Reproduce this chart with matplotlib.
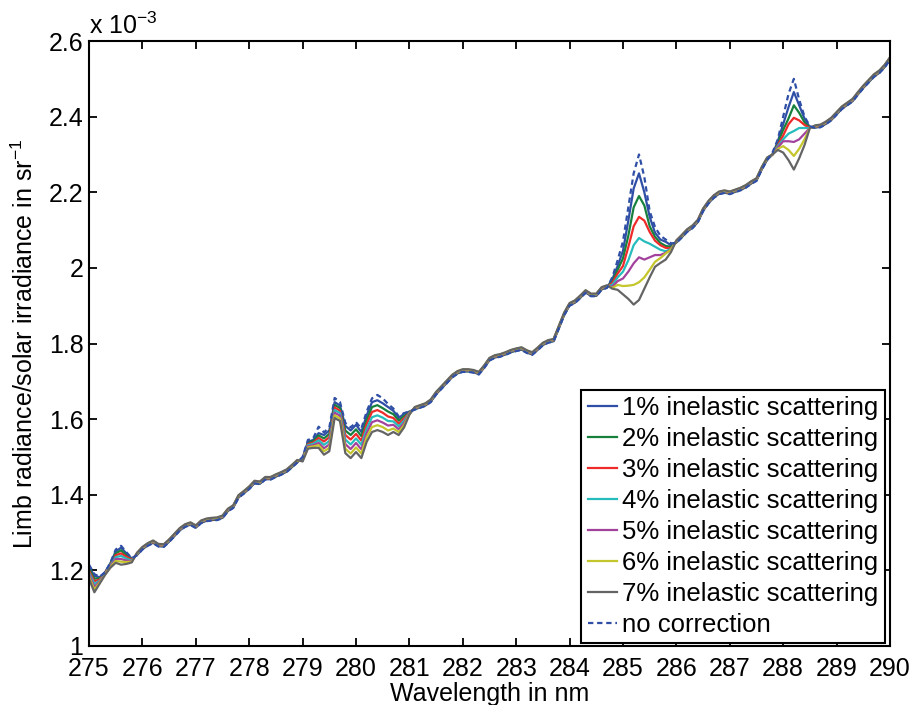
import numpy as np
import matplotlib
matplotlib.use("Agg")
import matplotlib.pyplot as plt
from matplotlib.ticker import FuncFormatter, MultipleLocator

plt.rcParams['font.family'] = ['Liberation Sans', 'DejaVu Sans']
plt.rcParams['mathtext.fontset'] = 'custom'
plt.rcParams['mathtext.rm'] = 'Liberation Sans'
plt.rcParams['mathtext.it'] = 'Liberation Sans:italic'

# wavelength grid in nm, 0.1 nm steps
wavelength = np.round(np.linspace(275.0, 290.0, 151), 1)

# uncorrected limb radiance / solar irradiance (x 1e-3 sr^-1)
no_correction = [
    1.215, 1.19, 1.183, 1.195, 1.22, 1.255, 1.265, 1.248, 1.232, 1.24,      # 275.0-275.9
    1.255, 1.265, 1.272, 1.263, 1.262, 1.275, 1.29, 1.305, 1.315, 1.32,     # 276.0-276.9
    1.312, 1.325, 1.33, 1.332, 1.333, 1.338, 1.356, 1.365, 1.392, 1.403,    # 277.0-277.9
    1.415, 1.43, 1.428, 1.44, 1.44, 1.447, 1.453, 1.46, 1.472, 1.485,       # 278.0-278.9
    1.50, 1.545, 1.55, 1.58, 1.565, 1.578, 1.656, 1.645, 1.59, 1.578,       # 279.0-279.9
    1.592, 1.575, 1.62, 1.655, 1.664, 1.655, 1.64, 1.628, 1.607, 1.616,     # 280.0-280.9
    1.62, 1.625, 1.63, 1.635, 1.645, 1.665, 1.68, 1.695, 1.71, 1.72,        # 281.0-281.9
    1.725, 1.725, 1.723, 1.718, 1.735, 1.755, 1.762, 1.765, 1.77, 1.776,    # 282.0-282.9
    1.78, 1.783, 1.775, 1.77, 1.782, 1.795, 1.802, 1.805, 1.84, 1.875,      # 283.0-283.9
    1.90, 1.907, 1.92, 1.934, 1.925, 1.925, 1.942, 1.947, 1.975, 2.02,      # 284.0-284.9
    2.07, 2.16, 2.25, 2.30, 2.24, 2.15, 2.108, 2.085, 2.075, 2.065,         # 285.0-285.9
    2.066, 2.08, 2.095, 2.105, 2.12, 2.15, 2.17, 2.185, 2.195, 2.198,       # 286.0-286.9
    2.195, 2.20, 2.205, 2.212, 2.222, 2.23, 2.26, 2.285, 2.305, 2.34,       # 287.0-287.9
    2.40, 2.46, 2.50, 2.445, 2.40, 2.375, 2.37, 2.372, 2.38, 2.39,          # 288.0-288.9
    2.405, 2.42, 2.43, 2.44, 2.458, 2.475, 2.49, 2.505, 2.515, 2.53,        # 289.0-289.9
    2.55,                                                                   # 290.0
]

labels = ['1% inelastic scattering', '2% inelastic scattering', '3% inelastic scattering',
          '4% inelastic scattering', '5% inelastic scattering', '6% inelastic scattering',
          '7% inelastic scattering']
colors = ['#2f4fa6', '#17803d', '#ee2a2a', '#27bcbc', '#a3429d', '#c5c52c', '#646464']

# small shift of the corrected spectra away from the Fraunhofer lines (1% .. 7%)
band_offset = [0.001, 0.002, 0.003, 0.004, 0.005, 0.006, 0.007]

# corrected spectra around the lines, one row per percentage (1% .. 7%)
win_275_wl = [275.0, 275.1, 275.2, 275.3, 275.4, 275.5, 275.6, 275.7, 275.8]
win_275 = [
    [1.210, 1.185, 1.182, 1.195, 1.219, 1.250, 1.260, 1.245, 1.231],
    [1.205, 1.178, 1.179, 1.194, 1.217, 1.245, 1.253, 1.240, 1.229],
    [1.199, 1.171, 1.176, 1.193, 1.215, 1.240, 1.245, 1.236, 1.228],
    [1.194, 1.164, 1.173, 1.191, 1.213, 1.235, 1.238, 1.231, 1.226],
    [1.189, 1.156, 1.171, 1.190, 1.211, 1.230, 1.230, 1.226, 1.224],
    [1.183, 1.149, 1.168, 1.189, 1.209, 1.225, 1.223, 1.222, 1.223],
    [1.178, 1.142, 1.165, 1.188, 1.207, 1.220, 1.215, 1.217, 1.221],
]

win_280_wl = [279.0, 279.1, 279.2, 279.3, 279.4, 279.5, 279.6, 279.7, 279.8, 279.9, 280.0,
              280.1, 280.2, 280.3, 280.4, 280.5, 280.6, 280.7, 280.8, 280.9, 281.0]
win_280 = [
    [1.498, 1.540, 1.545, 1.563, 1.558, 1.570, 1.645, 1.636, 1.582, 1.570, 1.585,
     1.566, 1.610, 1.645, 1.650, 1.642, 1.632, 1.622, 1.603, 1.614, 1.620],
    [1.496, 1.537, 1.542, 1.557, 1.549, 1.561, 1.638, 1.629, 1.570, 1.558, 1.573,
     1.555, 1.598, 1.632, 1.637, 1.629, 1.620, 1.613, 1.596, 1.608, 1.619],
    [1.495, 1.534, 1.538, 1.550, 1.541, 1.552, 1.631, 1.622, 1.558, 1.546, 1.561,
     1.543, 1.587, 1.619, 1.624, 1.617, 1.607, 1.603, 1.588, 1.602, 1.617],
    [1.493, 1.531, 1.535, 1.544, 1.532, 1.542, 1.624, 1.616, 1.546, 1.533, 1.549,
     1.532, 1.575, 1.605, 1.610, 1.604, 1.595, 1.594, 1.581, 1.596, 1.616],
    [1.491, 1.528, 1.531, 1.537, 1.523, 1.533, 1.617, 1.609, 1.534, 1.521, 1.537,
     1.520, 1.563, 1.592, 1.597, 1.591, 1.583, 1.585, 1.573, 1.590, 1.615],
    [1.490, 1.525, 1.528, 1.531, 1.515, 1.524, 1.610, 1.602, 1.522, 1.509, 1.525,
     1.509, 1.552, 1.579, 1.584, 1.579, 1.570, 1.575, 1.566, 1.584, 1.613],
    [1.488, 1.522, 1.524, 1.524, 1.506, 1.515, 1.603, 1.595, 1.510, 1.497, 1.513,
     1.497, 1.540, 1.566, 1.571, 1.566, 1.558, 1.566, 1.558, 1.578, 1.612],
]

win_285_wl = [284.8, 284.9, 285.0, 285.1, 285.2, 285.3, 285.4, 285.5, 285.6, 285.7, 285.8, 285.9]
win_285 = [
    [1.970, 2.005, 2.045, 2.125, 2.210, 2.250, 2.200, 2.135, 2.093, 2.075, 2.069, 2.060],
    [1.965, 1.995, 2.025, 2.085, 2.160, 2.190, 2.165, 2.110, 2.082, 2.066, 2.058, 2.056],
    [1.960, 1.985, 2.005, 2.055, 2.110, 2.135, 2.125, 2.095, 2.072, 2.060, 2.053, 2.052],
    [1.955, 1.975, 1.990, 2.020, 2.060, 2.079, 2.070, 2.064, 2.056, 2.048, 2.044, 2.050],
    [1.950, 1.965, 1.972, 1.990, 2.012, 2.028, 2.022, 2.028, 2.034, 2.034, 2.040, 2.048],
    [1.947, 1.955, 1.952, 1.953, 1.955, 1.962, 1.975, 1.995, 2.016, 2.026, 2.038, 2.048],
    [1.945, 1.942, 1.930, 1.918, 1.903, 1.915, 1.945, 1.975, 2.003, 2.013, 2.022, 2.042],
]

win_288_wl = [287.8, 287.9, 288.0, 288.1, 288.2, 288.3, 288.4, 288.5]
win_288 = [
    [2.300, 2.335, 2.380, 2.425, 2.465, 2.430, 2.395, 2.372],
    [2.300, 2.330, 2.365, 2.395, 2.430, 2.410, 2.385, 2.371],
    [2.300, 2.325, 2.350, 2.380, 2.397, 2.390, 2.378, 2.370],
    [2.300, 2.322, 2.340, 2.355, 2.362, 2.370, 2.370, 2.370],
    [2.300, 2.318, 2.335, 2.335, 2.333, 2.340, 2.355, 2.370],
    [2.300, 2.315, 2.322, 2.312, 2.296, 2.315, 2.340, 2.370],
    [2.300, 2.312, 2.305, 2.285, 2.260, 2.290, 2.325, 2.370],
]

windows = [(win_275_wl, win_275), (win_280_wl, win_280),
           (win_285_wl, win_285), (win_288_wl, win_288)]


def corrected(k):
    """spectrum corrected for k+1 % inelastic scattering"""
    y = np.array(no_correction) + band_offset[k]
    for wl, table in windows:
        idx = np.searchsorted(wavelength, np.round(wl, 1))
        y[idx] = table[k]
    return y


fig = plt.figure(figsize=(9.14, 7.05), dpi=100)
ax = fig.add_axes([0.0974, 0.0837, 0.8763, 0.8581])

for k in range(7):
    ax.plot(wavelength, corrected(k), color=colors[k], lw=1.6, label=labels[k])
ax.plot(wavelength, no_correction, color='#2f4fa6', lw=1.6, dashes=(2.4, 1.7),
        label='no correction')

ax.set_xlim(275, 290)
ax.set_ylim(1.0, 2.6)
ax.xaxis.set_major_locator(MultipleLocator(1))
ax.yaxis.set_major_locator(MultipleLocator(0.2))
ax.yaxis.set_major_formatter(FuncFormatter(lambda v, p: '%g' % round(v, 1)))

ax.tick_params(direction='in', length=5.5, width=1.3, labelsize=18,
               top=True, right=True, colors='black', pad=4)
ax.tick_params(axis='x', pad=8)
for s in ax.spines.values():
    s.set_linewidth(1.5)

ax.set_xlabel('Wavelength in nm', fontsize=18, labelpad=1)
ax.set_ylabel(r'Limb radiance/solar irradiance in sr$^{-1}$', fontsize=18, labelpad=8)
ax.text(0.0, 1.004, r'x 10$^{-3}$', transform=ax.transAxes, fontsize=18,
        ha='left', va='bottom')

leg = ax.legend(loc='lower right', bbox_to_anchor=(0.994, 0.005), fontsize=18.5,
                handlelength=1.15, handletextpad=0.2, labelspacing=0.27,
                borderpad=0.25, borderaxespad=0, fancybox=False, framealpha=1)
leg.get_frame().set_edgecolor('black')
leg.get_frame().set_linewidth(1.5)

fig.savefig('out.png', dpi=100)
